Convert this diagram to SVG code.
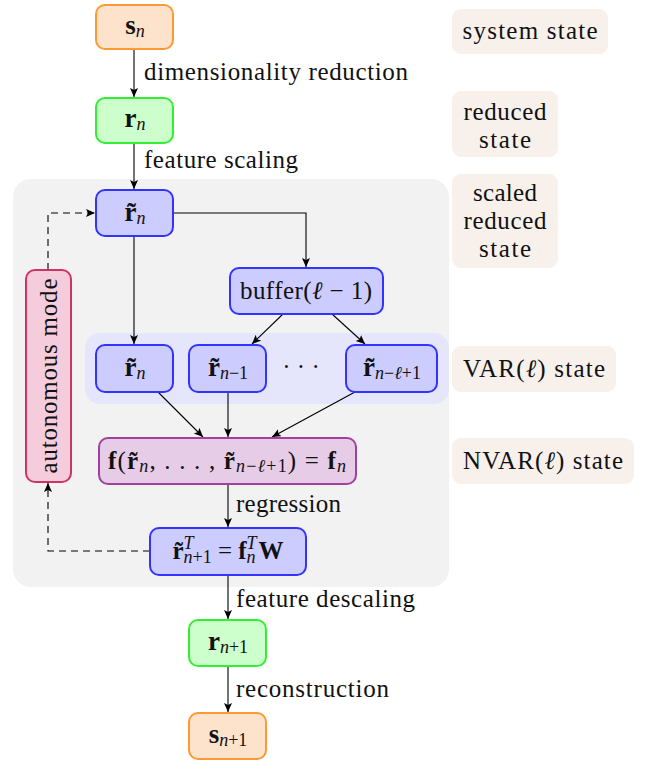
<svg xmlns="http://www.w3.org/2000/svg" width="652" height="760" viewBox="0 0 652 760" font-family="Liberation Serif">
<defs>
<marker id="ah" markerUnits="userSpaceOnUse" markerWidth="10" markerHeight="10" refX="9" refY="4" orient="auto">
<path d="M0,0 L9,4 L0,8 L2,4 z" fill="#000"/>
</marker>
<style>
.t{font-size:25px;fill:#111;}
.m{font-size:25px;text-anchor:middle;fill:#111;}
.mm{font-size:27px;text-anchor:middle;fill:#111;}
.b{font-weight:bold;}
.i{font-style:italic;}
.s{font-size:18px;}
.orange{fill:#fee3cc;stroke:#ff9933;stroke-width:2;}
.green{fill:#ccffcc;stroke:#33ee33;stroke-width:2;}
.blue{fill:#ccccff;stroke:#3333ff;stroke-width:2;}
.purple{fill:#e6cce6;stroke:#a040a0;stroke-width:2;}
.pink{fill:#f5ccdb;stroke:#cc3366;stroke-width:2;}
.side{fill:#f7f0eb;}
.c{fill:none;stroke:#000;stroke-width:1.1;marker-end:url(#ah);}
.d{fill:none;stroke:#000;stroke-width:1.1;stroke-dasharray:7,5;marker-end:url(#ah);}
</style>
</defs>
<g id="backgrounds">
<rect x="13" y="179" width="436" height="408" rx="18" fill="#f2f2f2"/>
<rect x="85" y="333" width="364" height="71" rx="15" fill="#e5e5fc"/>
</g>
<g id="connectors">
<line class="c" x1="134" y1="49" x2="134" y2="97"/>
<line class="c" x1="134" y1="143" x2="134" y2="189"/>
<polyline class="c" points="173,213 306,213 306,267"/>
<line class="c" x1="134" y1="236" x2="134" y2="344"/>
<line class="c" x1="283" y1="314" x2="252" y2="344"/>
<line class="c" x1="332" y1="314" x2="365" y2="344"/>
<line class="c" x1="158" y1="392" x2="203" y2="437"/>
<line class="c" x1="228" y1="392" x2="228" y2="437"/>
<line class="c" x1="355" y1="392" x2="272" y2="437"/>
<line class="c" x1="228" y1="484" x2="228" y2="527"/>
<line class="c" x1="228" y1="575" x2="228" y2="619"/>
<line class="c" x1="228" y1="666" x2="228" y2="712"/>
<polyline class="d" points="150,551 48,551 48,483"/>
<polyline class="d" points="48,270 48,213 95,213"/>
<text class="t" style="font-family:'Liberation Serif',serif" x="144" y="80" textLength="264">dimensionality reduction</text>
<text class="t" style="font-family:'Liberation Serif',serif" x="144" y="168" textLength="154">feature scaling</text>
<text class="t" style="font-family:'Liberation Serif',serif" x="236" y="512" textLength="105">regression</text>
<text class="t" style="font-family:'Liberation Serif',serif" x="236" y="607" textLength="179">feature descaling</text>
<text class="t" style="font-family:'Liberation Serif',serif" x="236" y="697" textLength="153">reconstruction</text>
</g>
<g id="s_n">
<rect class="orange" x="96" y="5" width="77" height="44" rx="9"/>
<text class="mm" style="font-family:'Liberation Serif',serif" x="135" y="34"><tspan class="b">s</tspan><tspan class="i s" dy="3">n</tspan></text>
</g>
<g id="r_n">
<rect class="green" x="96" y="98" width="77" height="45" rx="9"/>
<text class="mm" style="font-family:'Liberation Serif',serif" x="135" y="127"><tspan class="b">r</tspan><tspan class="i s" dy="3">n</tspan></text>
</g>
<g id="rt_n_top">
<rect class="blue" x="96" y="190" width="77" height="46" rx="9"/>
<text class="mm" style="font-family:'Liberation Serif',serif" x="135" y="221"><tspan class="b">r̃</tspan><tspan class="i s" dy="3">n</tspan></text>
</g>
<g id="buffer">
<rect class="blue" x="230" y="268" width="153" height="46" rx="9"/>
<text class="m" style="font-family:'Liberation Serif',serif" x="306" y="299" textLength="132">buffer(<tspan class="i">ℓ</tspan> − 1)</text>
</g>
<g id="rt_n">
<rect class="blue" x="96" y="345" width="77" height="47" rx="9"/>
<text class="mm" style="font-family:'Liberation Serif',serif" x="135" y="376"><tspan class="b">r̃</tspan><tspan class="i s" dy="3">n</tspan></text>
</g>
<g id="rt_n1">
<rect class="blue" x="189" y="345" width="77" height="47" rx="9"/>
<text class="mm" style="font-family:'Liberation Serif',serif" x="228" y="376"><tspan class="b">r̃</tspan><tspan class="s" dy="3"><tspan class="i">n</tspan>−1</tspan></text>
</g>
<text class="m" style="font-family:'Liberation Serif',serif" x="301" y="375">· · ·</text>
<g id="rt_nl1">
<rect class="blue" x="346" y="345" width="91" height="47" rx="9"/>
<text class="mm" style="font-family:'Liberation Serif',serif" x="392" y="376"><tspan class="b">r̃</tspan><tspan class="s" dy="3"><tspan class="i">n</tspan>−<tspan class="i">ℓ</tspan>+1</tspan></text>
</g>
<g id="f">
<rect class="purple" x="99" y="438" width="257" height="46" rx="9"/>
<text class="m" style="font-family:'Liberation Serif',serif" x="227" y="469" textLength="238"><tspan class="b">f</tspan>(<tspan class="b">r̃</tspan><tspan class="i s" dy="3">n</tspan><tspan dy="-3">, . . . , </tspan><tspan class="b">r̃</tspan><tspan class="s" dy="3"><tspan class="i">n</tspan>−<tspan class="i">ℓ</tspan>+1</tspan><tspan dy="-3">) = </tspan><tspan class="b">f</tspan><tspan class="i s" dy="3">n</tspan></text>
</g>
<g id="regress">
<rect class="blue" x="150" y="528" width="156" height="47" rx="9"/>
<text class="m" style="font-family:'Liberation Serif',serif" x="228" y="559"><tspan class="b">r̃</tspan><tspan class="i s" dy="-10">T</tspan><tspan class="s" dx="-10" dy="14"><tspan class="i">n</tspan>+1</tspan><tspan dy="-4" xml:space="preserve"> = </tspan><tspan class="b">f</tspan><tspan class="i s" dy="-10">T</tspan><tspan class="i s" dx="-10" dy="14">n</tspan><tspan class="b" dy="-4" dx="3">W</tspan></text>
</g>
<g id="auto">
<rect class="pink" x="26" y="270" width="45" height="212" rx="9"/>
<text class="m" style="font-family:'Liberation Serif',serif" transform="translate(57,376) rotate(-90)" x="0" y="0" textLength="195">autonomous mode</text>
</g>
<g id="r_n1">
<rect class="green" x="189" y="620" width="77" height="46" rx="9"/>
<text class="mm" style="font-family:'Liberation Serif',serif" x="228" y="650"><tspan class="b">r</tspan><tspan class="s" dy="3"><tspan class="i">n</tspan>+1</tspan></text>
</g>
<g id="s_n1">
<rect class="orange" x="189" y="713" width="77" height="46" rx="9"/>
<text class="mm" style="font-family:'Liberation Serif',serif" x="228" y="743"><tspan class="b">s</tspan><tspan class="s" dy="3"><tspan class="i">n</tspan>+1</tspan></text>
</g>
<g id="side_labels">
<rect class="side" x="452" y="9" width="156" height="45" rx="9"/>
<text class="m" style="font-family:'Liberation Serif',serif" x="530" y="39" textLength="135">system state</text>
<rect class="side" x="452" y="91" width="106" height="66" rx="9"/>
<text class="m" style="font-family:'Liberation Serif',serif" x="505" y="120" textLength="83">reduced</text>
<text class="m" style="font-family:'Liberation Serif',serif" x="505" y="148" textLength="52">state</text>
<rect class="side" x="452" y="174" width="106" height="94" rx="9"/>
<text class="m" style="font-family:'Liberation Serif',serif" x="505" y="201" textLength="64">scaled</text>
<text class="m" style="font-family:'Liberation Serif',serif" x="505" y="229" textLength="83">reduced</text>
<text class="m" style="font-family:'Liberation Serif',serif" x="505" y="257" textLength="52">state</text>
<rect class="side" x="452" y="346" width="164" height="46" rx="9"/>
<text class="m" style="font-family:'Liberation Serif',serif" x="534" y="377" textLength="142">VAR(<tspan class="i">ℓ</tspan>) state</text>
<rect class="side" x="452" y="438" width="182" height="46" rx="9"/>
<text class="m" style="font-family:'Liberation Serif',serif" x="543" y="469" textLength="160">NVAR(<tspan class="i">ℓ</tspan>) state</text>
</g>
</svg>
